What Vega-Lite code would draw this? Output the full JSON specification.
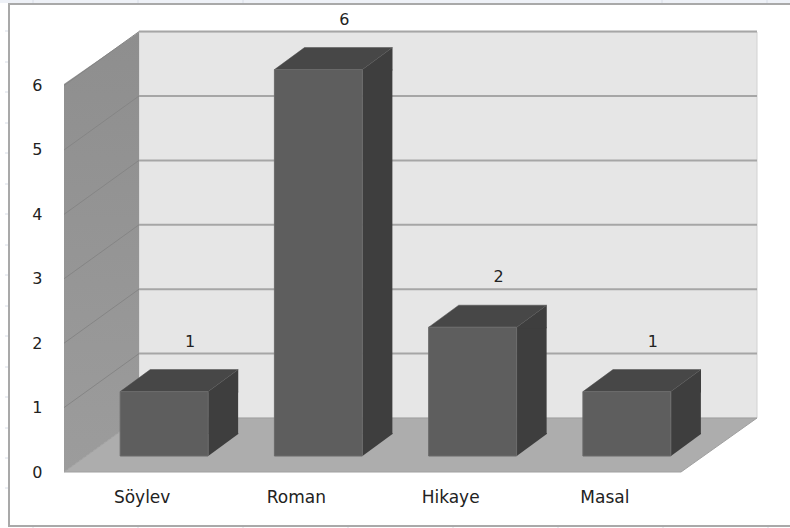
{"$schema":"https://vega.github.io/schema/vega-lite/v6.json","width":692,"height":440,"autosize":{"type":"none"},"padding":{"left":65,"top":32,"right":33,"bottom":56},"background":"#ffffff","view":{"stroke":null},"config":{"font":"DejaVu Sans"},"datasets":{"books":[{"tur":"Söylev","adet":1},{"tur":"Roman","adet":6},{"tur":"Hikaye","adet":2},{"tur":"Masal","adet":1}],"levels":[{"v":1},{"v":2},{"v":3},{"v":4},{"v":5},{"v":6}],"one":[{"part":"frame"}]},"layer":[{"data":{"name":"one"},"mark":{"type":"point","filled":true,"opacity":1,"size":4,"fill":"#eef1f7","stroke":null,"shape":"M-411,-472L379,-472L379,-469L-411,-469Z"},"encoding":{"y":{"datum":0,"scale":{"domain":[0,6.832]}}}},{"data":{"name":"one"},"mark":{"type":"point","filled":false,"opacity":1,"size":4,"stroke":"#d9dee8","strokeWidth":1,"shape":"M-378,-472L-378,-468M-273,-472L-273,-468M-168,-472L-168,-468M251,-472L251,-468M356,-472L356,-468M-378,54L-378,56M-273,54L-273,56M-168,54L-168,56M-63,54L-63,56M42,54L42,56M147,54L147,56M252,54L252,56M357,54L357,56M-406,-441H-402M-406,-410H-402M-406,-380H-402M-406,-349H-402M-406,-319H-402M-406,-288H-402M-406,-258H-402M-406,-227H-402M-406,-197H-402M-406,-166H-402M-406,-136H-402M-406,-105H-402M-406,-75H-402M-406,-44H-402M-406,-14H-402M-406,16H-402"},"encoding":{"y":{"datum":0,"scale":{"domain":[0,6.832]}}}},{"data":{"name":"one"},"mark":{"type":"point","filled":false,"opacity":1,"size":4,"stroke":"#a9a9a9","strokeWidth":2,"shape":"M379,-468L-402,-468L-402,54L379,54"},"encoding":{"y":{"datum":0,"scale":{"domain":[0,6.832]}}}},{"data":{"name":"one"},"mark":{"type":"point","filled":true,"opacity":1,"size":4,"fill":"#e6e6e6","stroke":"#d2d2d2","strokeWidth":1,"shape":"M-272,-440L346,-440L346,-54L-272,-54Z"},"encoding":{"y":{"datum":0,"scale":{"domain":[0,6.832]}}}},{"data":{"name":"one"},"mark":{"type":"point","filled":true,"opacity":1,"size":4,"stroke":null,"fill":{"gradient":"linear","x1":0,"y1":0,"x2":0,"y2":1,"stops":[{"offset":0,"color":"#8e8e8e"},{"offset":1,"color":"#9c9c9c"}]},"shape":"M-347,0L-347,-388L-272,-440L-272,-54Z"},"encoding":{"y":{"datum":0,"scale":{"domain":[0,6.832]}}}},{"data":{"name":"one"},"mark":{"type":"point","filled":true,"opacity":1,"size":4,"fill":"#adadad","stroke":"#a0a0a0","strokeWidth":1,"shape":"M-347,0L270,0L346,-54L-272,-54Z"},"encoding":{"y":{"datum":0,"scale":{"domain":[0,6.832]}}}},{"data":{"name":"levels"},"mark":{"type":"point","filled":false,"opacity":1,"size":4,"stroke":"#a6a6a6","strokeWidth":2,"shape":"M-272,-54L346,-54"},"encoding":{"y":{"field":"v","type":"quantitative","scale":{"domain":[0,6.832]}}}},{"data":{"name":"levels"},"mark":{"type":"point","filled":false,"opacity":1,"size":4,"stroke":"#858585","strokeWidth":1,"shape":"M-347,0L-272,-54"},"encoding":{"y":{"field":"v","type":"quantitative","scale":{"domain":[0,6.832]}}}},{"data":{"name":"books"},"mark":{"type":"bar","color":"#3e3e3e","width":30,"xOffset":81,"yOffset":-16,"y2Offset":-38},"encoding":{"x":{"field":"tur","type":"nominal","sort":null,"scale":{"range":[0,617],"paddingInner":0.43,"paddingOuter":0.215}},"y":{"field":"adet","type":"quantitative","scale":{"domain":[0,6.832]}},"y2":{"datum":0}}},{"data":{"name":"books"},"mark":{"type":"point","filled":true,"opacity":1,"size":4,"fill":"#3e3e3e","stroke":null,"shape":"M66.1,-16L96.1,-38L96.1,-39L66.1,-39Z"},"encoding":{"x":{"field":"tur","type":"nominal","sort":null},"y":{"datum":0,"scale":{"domain":[0,6.832]}}}},{"data":{"name":"books"},"mark":{"type":"point","filled":true,"opacity":1,"size":4,"fill":"#3e3e3e","stroke":null,"shape":"M66.1,-16L96.1,-38L96.1,-15L66.1,-15Z"},"encoding":{"x":{"field":"tur","type":"nominal","sort":null},"y":{"field":"adet","type":"quantitative","scale":{"domain":[0,6.832]}}}},{"data":{"name":"books"},"mark":{"type":"point","filled":true,"opacity":1,"size":4,"fill":"#474747","stroke":"#4d4d4d","strokeWidth":0.5,"shape":"M-21.9,-16L66.1,-16L96.1,-38L8.1,-38Z"},"encoding":{"x":{"field":"tur","type":"nominal","sort":null},"y":{"field":"adet","type":"quantitative","scale":{"domain":[0,6.832]}}}},{"data":{"name":"books"},"mark":{"type":"bar","color":"#5e5e5e","stroke":"#6a6a6a","strokeWidth":1,"xOffset":22,"x2Offset":22,"yOffset":-16,"y2Offset":-16},"encoding":{"x":{"field":"tur","type":"nominal","sort":null,"axis":{"title":null,"domain":false,"ticks":false,"labelAngle":0,"labelAlign":"center","labelPadding":25,"labelFontSize":17,"labelColor":"#222222","labelFont":"DejaVu Sans"},"scale":{"range":[0,617],"paddingInner":0.43,"paddingOuter":0.215}},"y":{"field":"adet","type":"quantitative","scale":{"domain":[0,6.832]},"axis":{"title":null,"domain":false,"ticks":false,"grid":false,"values":[0,1,2,3,4,5,6],"format":"d","labelPadding":23,"labelFontSize":16,"labelColor":"#222222","labelFont":"DejaVu Sans"}},"y2":{"datum":0}}},{"data":{"name":"books"},"mark":{"type":"text","dx":48,"dy":-66,"fontSize":16,"font":"DejaVu Sans","color":"#222222"},"encoding":{"x":{"field":"tur","type":"nominal","sort":null},"y":{"field":"adet","type":"quantitative","scale":{"domain":[0,6.832]}},"text":{"field":"adet","type":"quantitative"}}}]}
